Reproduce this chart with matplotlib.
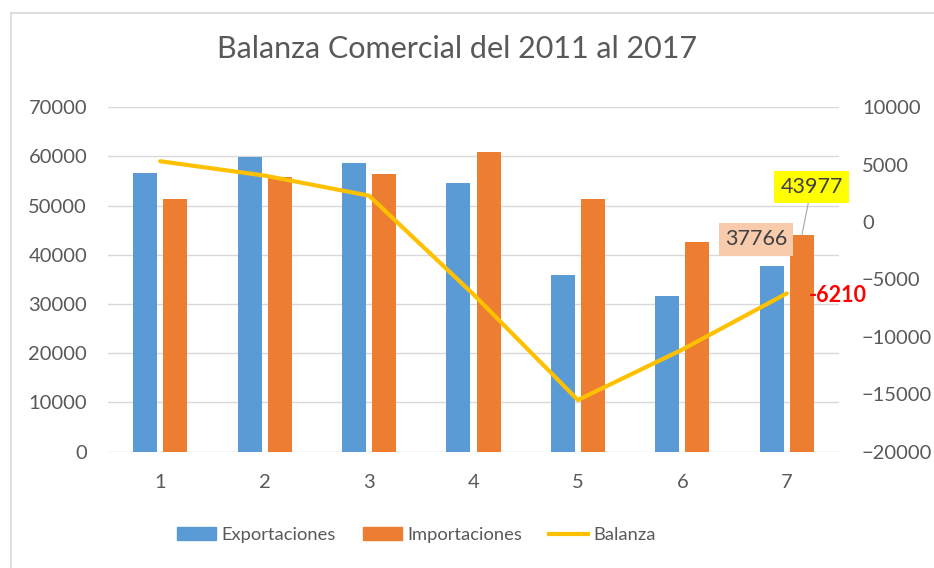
import numpy as np
import matplotlib
matplotlib.use("Agg")
import matplotlib.pyplot as plt
from matplotlib.patches import Patch
from matplotlib.lines import Line2D

plt.rcParams['font.family'] = ['Lato', 'DejaVu Sans']

# data
years = [1, 2, 3, 4, 5, 6, 7]
exportaciones = [56700, 59950, 58750, 54700, 35900, 31600, 37766]
importaciones = [51400, 55900, 56400, 61000, 51400, 42700, 43977]
balanza = [5300, 4050, 2300, -6300, -15500, -11100, -6210]

left_ticks = [0, 10000, 20000, 30000, 40000, 50000, 60000, 70000]
right_ticks = [-20000, -15000, -10000, -5000, 0, 5000, 10000]

c_exp = "#5B9BD5"
c_imp = "#ED7D31"
c_bal = "#FFC000"
c_txt = "#595959"
c_grid = "#D9D9D9"

fig = plt.figure(figsize=(9.34, 5.68), dpi=100)
ax = fig.add_axes([0.1156, 0.2048, 0.7827, 0.6063])
ax2 = ax.twinx()

x = np.array(years)
w = 0.23
off = 0.144
ax.bar(x - off, exportaciones, w, color=c_exp, zorder=2)
ax.bar(x + off, importaciones, w, color=c_imp, zorder=2)

ax.set_xlim(0.5, 7.5)
ax.set_ylim(0, 70000)
ax.set_yticks(left_ticks)
ax.set_xticks(years)
ax.set_xticklabels([str(v) for v in years])
ax.yaxis.grid(True, color=c_grid, lw=1)
ax.set_axisbelow(True)

ax2.plot(x, balanza, color=c_bal, lw=3, solid_capstyle='round', zorder=3)
ax2.set_ylim(-20000, 10000)
ax2.set_yticks(right_ticks)

for a in (ax, ax2):
    for s in a.spines.values():
        s.set_visible(False)
    a.tick_params(length=0, labelsize=14.5, labelcolor=c_txt)
ax.tick_params(axis='y', pad=15)
ax.tick_params(axis='x', pad=16)
ax2.tick_params(axis='y', pad=16.5)

# data labels
ax.annotate(f"{importaciones[6]}", xy=(x[6] + off, importaciones[6]),
            xytext=(7, 35), textcoords='offset points', ha='center', va='center',
            fontsize=15.5, color="#404040",
            bbox=dict(boxstyle='square,pad=0.28', fc='#FFFF00', ec='none'),
            arrowprops=dict(arrowstyle='-', color='#A6A6A6', lw=0.8, shrinkA=0, shrinkB=0))
ax.annotate(f"{exportaciones[6]}", xy=(x[6] - off, exportaciones[6]),
            xytext=(-11.5, 19), textcoords='offset points', ha='center', va='center',
            fontsize=15.5, color="#404040",
            bbox=dict(boxstyle='square,pad=0.28', fc='#F8CBAD', ec='none'))
ax2.annotate(f"{balanza[6]}", xy=(x[6], balanza[6]),
             xytext=(37, -1.5), textcoords='offset points', ha='center', va='center',
             fontsize=15.5, color='#FF0000', fontweight='bold')

fig.text(0.4896, 1 - 58.3 / 568, "Balanza Comercial del 2011 al 2017",
         ha='center', va='baseline', fontsize=22, color=c_txt)

handles = [Patch(color=c_exp), Patch(color=c_imp), Line2D([], [], color=c_bal, lw=3)]
fig.legend(handles, ["Exportaciones", "Importaciones", "Balanza"],
           loc='center', bbox_to_anchor=(0.446, 1 - 535 / 568), ncol=3,
           frameon=False, fontsize=13.2, labelcolor=c_txt,
           handlelength=2.1, handletextpad=0.3, columnspacing=1.5)

# outer chart border (left and top edges visible)
fig.add_artist(Line2D([11 / 934, 11 / 934], [0, 1 - 12.5 / 568], color=c_grid, lw=1.2,
                      transform=fig.transFigure))
fig.add_artist(Line2D([11 / 934, 1], [1 - 12.5 / 568, 1 - 12.5 / 568], color=c_grid, lw=1.2,
                      transform=fig.transFigure))

fig.savefig("out.png", dpi=100)
